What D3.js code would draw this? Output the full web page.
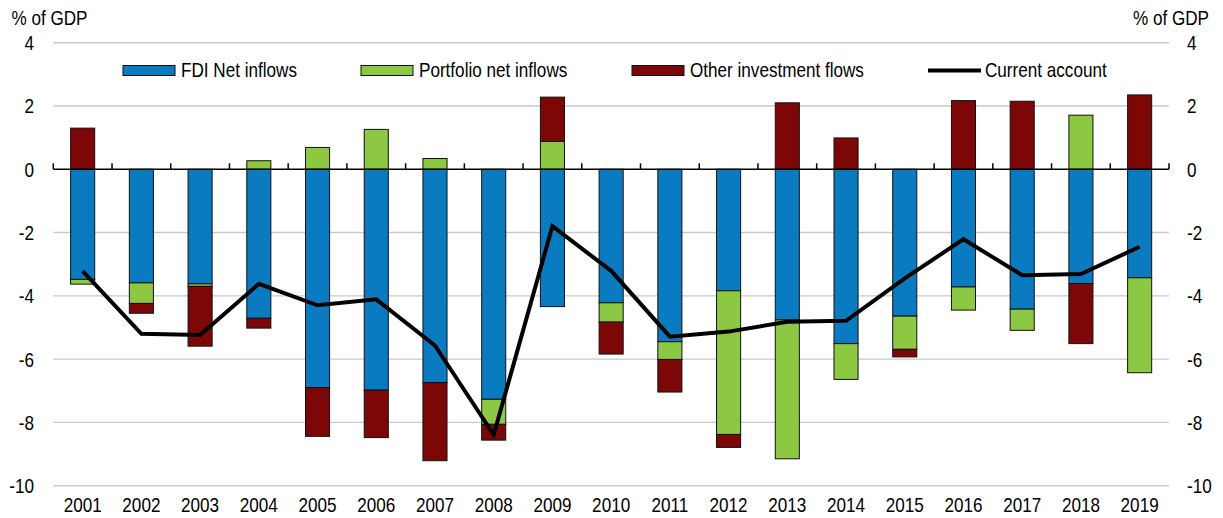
<!DOCTYPE html>
<html lang="en">
<head>
<meta charset="UTF-8">
<title>Capital flows and current account</title>
<script src="https://d3js.org/d3.v7.min.js"></script>
<style>
  body { margin: 0; background: #fff; }
  svg text { font-family: "Liberation Sans", Arial, sans-serif; font-size: 21px; fill: #000; }
</style>
</head>
<body>
<svg width="1223" height="518"></svg>
<script>
const years = ["2001","2002","2003","2004","2005","2006","2007","2008","2009","2010",
               "2011","2012","2013","2014","2015","2016","2017","2018","2019"];
const fdi       = [-3.48,-3.59,-3.62,-4.71,-6.90,-6.98,-6.74,-7.27,-4.34,-4.22,-5.45,-3.84,-4.76,-5.51,-4.64,-3.72,-4.42,-3.61,-3.43];
const portfolio = [-0.15,-0.65,-0.08, 0.27, 0.69, 1.26, 0.34,-0.79, 0.88,-0.61,-0.56,-4.54,-4.39,-1.13,-1.05,-0.73,-0.67, 1.71,-3.00];
const other     = [ 1.30,-0.31,-1.89,-0.31,-1.54,-1.50,-2.47,-0.50, 1.40,-1.01,-1.03,-0.41, 2.10, 0.99,-0.24, 2.17, 2.15,-1.90, 2.35];
const current   = [-3.22,-5.20,-5.24,-3.62,-4.30,-4.11,-5.57,-8.39,-1.80,-3.21,-5.29,-5.13,-4.82,-4.79,-3.45,-2.21,-3.35,-3.31,-2.45];
const yTicks = [4, 2, 0, -2, -4, -6, -8, -10];

const keys = ["fdi", "portfolio", "other"];
const colors = { fdi: "#0a7bc1", portfolio: "#8cc842", other: "#7d0606" };
const labels = { fdi: "FDI Net inflows", portfolio: "Portfolio net inflows", other: "Other investment flows" };

const table = years.map((y, i) => ({ year: y, fdi: fdi[i], portfolio: portfolio[i], other: other[i], ca: current[i] }));

const svg = d3.select("svg");
const left = 53.3, right = 1169;
const squeeze = 0.815; // the original uses a condensed face

// text helper: condensed horizontally around its anchor point
function label(parent, tx, ty, s, anchor) {
  return parent.append("text")
    .attr("transform", `translate(${tx},${ty}) scale(${squeeze},1)`)
    .attr("text-anchor", anchor || "start")
    .text(s);
}

const x = d3.scaleBand().domain(years).range([left, right]).paddingInner(0.59).paddingOuter(0.295);
const xb = d3.scaleBand().domain(years).range([left, right]);
const y = d3.scaleLinear().domain([-10, 4]).range([485.7, 42.7]);

// gridlines
svg.append("g").selectAll("line").data(yTicks.filter(d => d !== 0)).join("line")
  .attr("x1", left).attr("x2", right)
  .attr("y1", d => y(d)).attr("y2", d => y(d))
  .attr("stroke", "#c9c9c9").attr("stroke-width", 1.4);

// tick labels, left and right
const tl = svg.append("g");
yTicks.forEach(d => {
  label(tl, 34, y(d) + 7.5, d, "end");
  label(tl, 1187, y(d) + 7.5, d, "start");
});

label(svg, 11.5, 25, "% of GDP");
label(svg, 1209, 25, "% of GDP", "end");

// stacked bars
const series = d3.stack().keys(keys).offset(d3.stackOffsetDiverging)(table);
svg.append("g").selectAll("g").data(series).join("g")
  .attr("fill", d => colors[d.key])
  .selectAll("rect").data(d => d).join("rect")
  .attr("x", d => x(d.data.year))
  .attr("width", x.bandwidth())
  .attr("y", d => y(Math.max(d[0], d[1])))
  .attr("height", d => Math.abs(y(d[0]) - y(d[1])))
  .attr("stroke", "#111").attr("stroke-width", 1);

// zero axis with upward ticks at band edges
svg.append("line").attr("x1", left).attr("x2", right)
  .attr("y1", y(0)).attr("y2", y(0)).attr("stroke", "#000").attr("stroke-width", 1.5);
const edges = years.map(d => xb(d)).concat([right]);
svg.append("g").selectAll("line").data(edges).join("line")
  .attr("x1", d => d).attr("x2", d => d)
  .attr("y1", y(0)).attr("y2", y(0) - 6)
  .attr("stroke", "#000").attr("stroke-width", 1.5);

// x labels
const xl = svg.append("g");
years.forEach(d => label(xl, xb(d) + xb.bandwidth() / 2, 511.5, d, "middle"));

// current account line
const line = d3.line().x(d => xb(d.year) + xb.bandwidth() / 2).y(d => y(d.ca));
svg.append("path").datum(table).attr("d", line)
  .attr("fill", "none").attr("stroke", "#000").attr("stroke-width", 4)
  .attr("stroke-linejoin", "miter");

// legend
const legendX = { fdi: 123, portfolio: 361, other: 632 };
const lg = svg.append("g");
keys.forEach(k => {
  lg.append("rect").attr("x", legendX[k]).attr("y", 65.5).attr("width", 52).attr("height", 10)
    .attr("fill", colors[k]).attr("stroke", "#111").attr("stroke-width", 1);
  label(lg, legendX[k] + 58, 77, labels[k]);
});
lg.append("line").attr("x1", 928).attr("x2", 981).attr("y1", 70.5).attr("y2", 70.5)
  .attr("stroke", "#000").attr("stroke-width", 4);
label(lg, 985, 77, "Current account");
</script>
</body>
</html>
